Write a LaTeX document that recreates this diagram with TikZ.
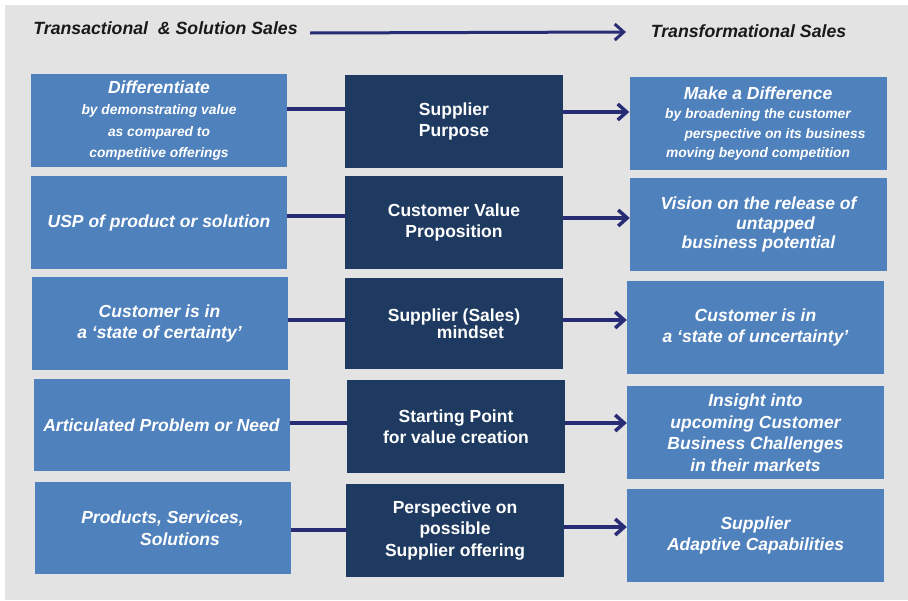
\documentclass[tikz,border=0pt]{standalone}
\usepackage{fontspec}
\setmainfont{Liberation Sans}
\usepackage{tikz}
\usetikzlibrary{arrows.meta}
\tikzset{>={Straight Barb[length=9pt,width=16pt]}}

\definecolor{bggray}{HTML}{E3E3E3}
\definecolor{lightblue}{HTML}{4F81BD}
\definecolor{navy}{HTML}{1F3A60}
\definecolor{linkblue}{HTML}{282C74}

\newcommand{\smallline}[1]{{\fontsize{13.8}{20}\selectfont #1}}

\begin{document}
\begin{tikzpicture}[x=1pt,y=-1pt,
    oldbox/.style={fill=lightblue,text=white,inner sep=0,minimum width=256pt,minimum height=93pt,
      align=center,font=\bfseries\itshape\fontsize{17.5}{21.5}\selectfont},
    newbox/.style={oldbox,minimum width=257pt},
    corebox/.style={fill=navy,text=white,inner sep=0,minimum width=218pt,minimum height=93pt,
      align=center,font=\bfseries\fontsize{17.5}{21.5}\selectfont},
    heading/.style={font=\bfseries\itshape\fontsize{17.7}{21}\selectfont,text=black!90},
    link/.style={draw=linkblue,line width=3.5pt}]
      \useasboundingbox (0,0) rectangle (908,600);
      \fill[bggray] (5,5) rectangle (908,600);

      \node[heading](tleft) at (165.5, 28.5) {Transactional\ \ \& Solution Sales};
      \node[heading](tright) at (748.5, 31.5) {Transformational Sales};
      \coordinate (ts) at (310, 33);
      \coordinate (te) at (626, 32);
      \draw[link,->,line width=3pt] (ts) -- (te);

      % left column
      \node[oldbox](o1) at (159, 120.5) {Differentiate\\ \smallline{by demonstrating value}\\
        \smallline{as compared to}\\ \smallline{competitive offerings}};
      \node[oldbox](o2) at (159, 222.5) {USP of product or solution};
      \node[oldbox](o3) at (159.5, 323.5) {Customer is in\\ a `state of certainty'};
      \node[oldbox,minimum height=92pt](o4) at (161.5, 425) {Articulated Problem or Need};
      \node[oldbox,minimum height=92pt](o5) at (162.5, 528) {Products, Services,\\ \hspace*{35pt}Solutions};

      % middle column
      \node[corebox](c1) at (454, 121.5) {Supplier\\ Purpose};
      \node[corebox](c2) at (454, 222.5) {Customer Value\\ Proposition};
      \node[corebox,minimum height=91pt](c3) at (454, 323.5) {Supplier (Sales)\\[-4pt] \hspace*{33pt}mindset};
      \node[corebox](c4) at (456, 426.5) {Starting Point\\ for value creation};
      \node[corebox](c5) at (455, 530.5) {Perspective on\\ possible\\ Supplier offering};

      % right column
      \node[newbox](n1) at (758, 123.5) {Make a Difference\\[-2pt] \smallline{by broadening the customer}\\[-2pt]
        \smallline{\hspace*{34pt}perspective on its business}\\[-2pt] \smallline{moving beyond competition}};
      \node[newbox](n2) at (758.5, 224.5) {Vision on the release of\\[-2pt] \hspace*{34pt}untapped\\[-2pt]
        business potential};
      \node[newbox](n3) at (755.5, 327.5) {Customer is in\\ a `state of uncertainty'};
      \node[newbox](n4) at (755.5, 432.5) {Insight into\\ upcoming Customer\\ Business Challenges\\
        in their markets};
      \node[newbox](n5) at (755.5, 535.5) {Supplier\\ Adaptive Capabilities};

      \draw[link] ([yshift=11.5pt]o1.east) -- ([yshift=12.5pt]c1.west);
      \draw[link] ([yshift=6.5pt]o2.east) -- ([yshift=6.5pt]c2.west);
      \draw[link] ([yshift=3.5pt]o3.east) -- ([yshift=3.5pt]c3.west);
      \draw[link] ([yshift=2pt]o4.east) -- ([yshift=3.5pt]c4.west);
      \draw[link] ([yshift=-2pt]o5.east) -- ([yshift=0.5pt]c5.west);

      \draw[link,->] ([yshift=9.5pt]c1.east) -- ([yshift=11.5pt]n1.west);
      \draw[link,->] ([yshift=4.5pt]c2.east) -- ([yshift=6.5pt]n2.west);
      \draw[link,->] ([yshift=3.5pt]c3.east) -- ([yshift=7.5pt]n3.west);
      \draw[link,->] ([yshift=3.5pt]c4.east) -- ([yshift=9.5pt]n4.west);
      \draw[link,->] ([yshift=3.5pt]c5.east) -- ([yshift=8.5pt]n5.west);
    \end{tikzpicture}
\end{document}
